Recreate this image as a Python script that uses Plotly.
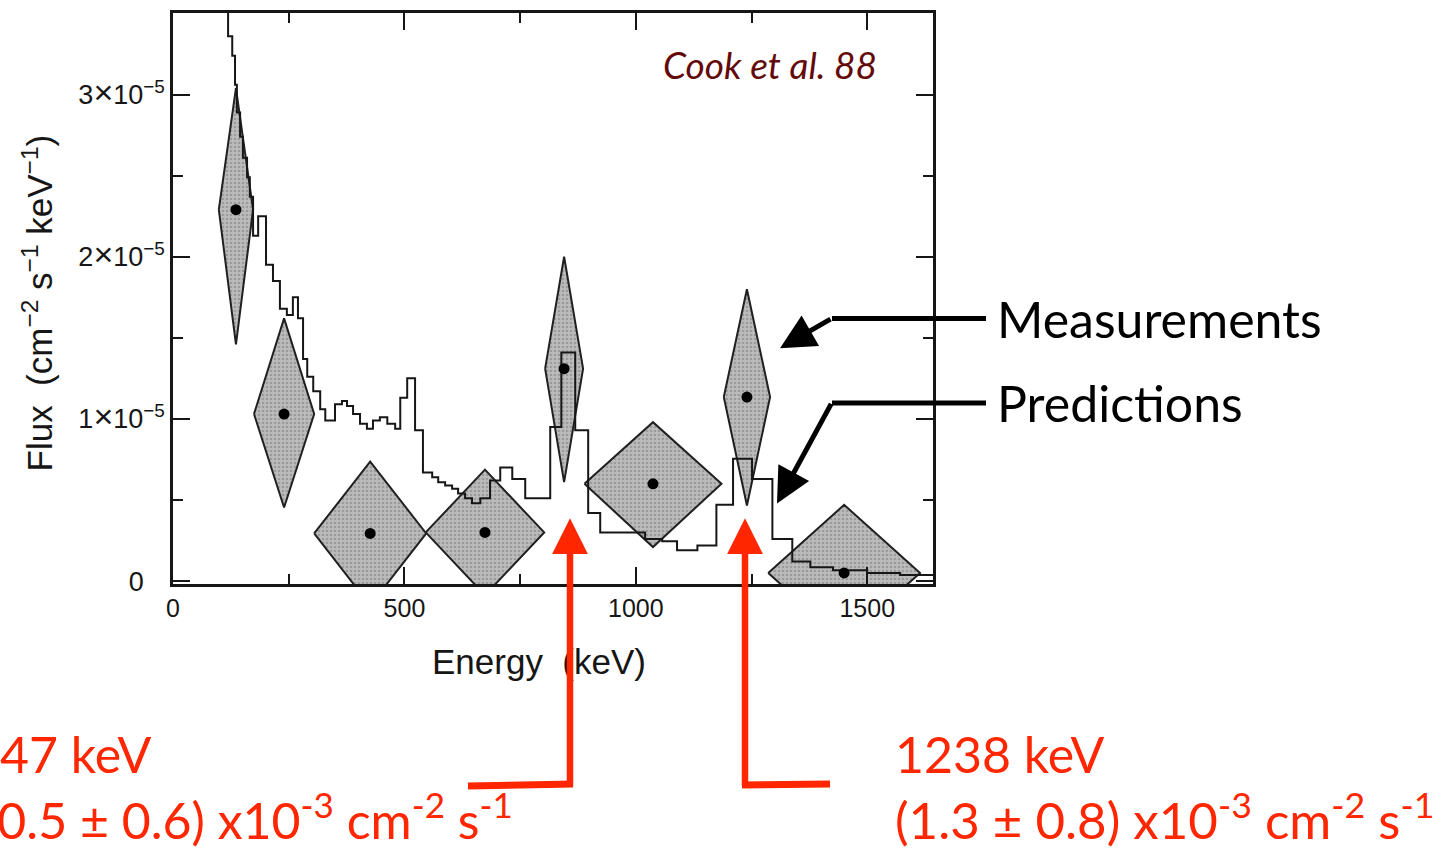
import plotly.graph_objects as go

# ---------------- data (flux in units of 1e-5 cm^-2 s^-1 keV^-1) ----------------
# Predicted spectrum (step histogram): bin edges (keV) and bin values
pred_edges = [100, 119, 128, 134, 138, 145, 151, 160, 166, 173, 184, 201, 216, 231,
              246, 259, 270, 281, 290, 303, 318, 329, 350, 365, 376, 389, 404, 419,
              432, 447, 463, 480, 491, 506, 523, 540, 560, 573, 588, 603, 616, 631,
              646, 664, 685, 707, 733, 761, 815, 839, 869, 897, 923, 1020, 1057,
              1089, 1133, 1174, 1210, 1251, 1295, 1338, 1377, 1426, 1500, 1571, 1650]
pred_flux = [4.0, 3.36, 3.24, 3.06, 2.89, 2.74, 2.61, 2.49, 2.37, 2.13, 2.25, 1.95,
             1.85, 1.68, 1.64, 1.75, 1.62, 1.37, 1.26, 1.17, 1.06, 0.99, 1.09, 1.11,
             1.08, 1.03, 0.97, 0.94, 0.99, 1.01, 0.97, 0.94, 1.13, 1.25, 0.93, 0.67,
             0.64, 0.61, 0.59, 0.57, 0.54, 0.51, 0.48, 0.51, 0.62, 0.70, 0.63, 0.51,
             0.95, 1.41, 0.93, 0.42, 0.30, 0.26, 0.245, 0.19, 0.22, 0.47, 0.755,
             0.63, 0.26, 0.12, 0.086, 0.067, 0.05, 0.037]

# Measurements: centre energy, half bin width, flux, lower / upper error bounds
meas_E = [136, 240, 426, 674, 845, 1037, 1240, 1450]
meas_dE = [37, 65, 121, 128, 41, 148, 50, 164]
meas_f = [2.29, 1.03, 0.294, 0.30, 1.31, 0.60, 1.135, 0.05]
meas_lo = [1.46, 0.454, -0.15, -0.087, 0.61, 0.21, 0.466, -0.37]
meas_hi = [3.04, 1.62, 0.736, 0.687, 2.00, 0.98, 1.80, 0.47]

x_ticks = [0, 500, 1000, 1500]
y_ticks = [0, 1, 2, 3]
_X = "<span style='font-size:34px'>\u00d7</span>"
y_ticktext = ["0<sup>\u00a0\u00a0\u00a0\u00a0</sup>",
              "1" + _X + "10<sup>\u22125</sup>",
              "2" + _X + "10<sup>\u22125</sup>",
              "3" + _X + "10<sup>\u22125</sup>"]

line_labels = ["847 keV", "1238 keV"]
flux_labels = ["(0.5 \u00b1 0.6) x10<sup>-3</sup> cm<sup>-2</sup> s<sup>-1</sup>",
               "(1.3 \u00b1 0.8) x10<sup>-3</sup> cm<sup>-2</sup> s<sup>-1</sup>"]

# ---------------- layout geometry (pixels) ----------------
W, H = 1441, 850
L, R, T, B = 173, 933, 10, 584
PW, PH = R - L, B - T


def px(xpix):
    return (xpix - L) / PW


def py(ypix):
    return (B - ypix) / PH


RED = "rgb(255,38,0)"
INK = "#161616"
fig = go.Figure()

# measurement diamonds
for E, dE, f, lo, hi in zip(meas_E, meas_dE, meas_f, meas_lo, meas_hi):
    fig.add_trace(go.Scatter(
        x=[E - dE, E, E + dE, E, E - dE],
        y=[f, hi, f, lo, f],
        mode="lines", fill="toself",
        fillcolor="#b4b4b4",
        fillpattern=dict(shape=".", fgcolor="#7a7a7a", bgcolor="#bcbcbc",
                         size=4, solidity=0.35),
        line=dict(color="#202020", width=2),
        hoverinfo="skip", showlegend=False))

# predicted spectrum
fig.add_trace(go.Scatter(
    x=pred_edges, y=pred_flux + [pred_flux[-1]],
    mode="lines", line=dict(color=INK, width=2, shape="hv"),
    showlegend=False))

# measurement centres
fig.add_trace(go.Scatter(
    x=meas_E, y=meas_f, mode="markers",
    marker=dict(color="black", size=11), showlegend=False))

axis_common = dict(
    showline=True, linecolor=INK, linewidth=2.5, mirror="ticks",
    ticks="inside", ticklen=17, tickwidth=2, tickcolor=INK,
    showgrid=False, zeroline=False,
)

fig.update_xaxes(range=[0, 1642], tickvals=x_ticks,
                 tickfont=dict(family="Liberation Sans", size=25, color=INK),
                 minor=dict(ticks="inside", ticklen=10, dtick=250, tick0=0,
                            tickwidth=2, tickcolor=INK),
                 **axis_common)
fig.update_yaxes(range=[-0.018, 3.503], tickvals=y_ticks, ticktext=y_ticktext,
                 tickfont=dict(family="Liberation Sans", size=27, color=INK),
                 minor=dict(ticks="inside", ticklen=10, dtick=0.5, tick0=0,
                            tickwidth=2, tickcolor=INK),
                 **axis_common)

ann = []
# axis titles
ann.append(dict(xref="paper", yref="paper", x=px(38), y=py(302), showarrow=False,
                textangle=-90, xanchor="center", yanchor="middle",
                text="Flux\u00a0\u00a0(cm<sup>\u22122</sup> s<sup>\u22121</sup> keV<sup>\u22121</sup>)",
                font=dict(family="Liberation Sans", size=35, color=INK)))
ann.append(dict(xref="paper", yref="paper", x=px(539), y=py(662), showarrow=False,
                xanchor="center", yanchor="middle", text="Energy\u00a0\u00a0(keV)",
                font=dict(family="Liberation Sans", size=35, color=INK)))
# reference text
ann.append(dict(xref="paper", yref="paper", x=px(770), y=py(62), showarrow=False,
                xanchor="center", yanchor="middle", text="<i>Cook et al. 88</i>",
                font=dict(family="Lato", size=37, color="rgb(100,10,10)")))
# legend-like labels
ann.append(dict(xref="paper", yref="paper", x=px(995), y=py(318), showarrow=False,
                xanchor="left", yanchor="middle", text="Measurements",
                font=dict(family="Lato", size=50, color="black")))
ann.append(dict(xref="paper", yref="paper", x=px(995), y=py(402), showarrow=False,
                xanchor="left", yanchor="middle", text="Predictions",
                font=dict(family="Lato", size=50, color="black")))
# black arrows (diagonal parts)
ann.append(dict(xref="paper", yref="paper", x=px(780), y=py(347), text="",
                showarrow=True, arrowhead=2, arrowsize=1.4, arrowwidth=5,
                arrowcolor="black", ax=832 - 780, ay=317 - 347))
ann.append(dict(xref="paper", yref="paper", x=px(777), y=py(503), text="",
                showarrow=True, arrowhead=2, arrowsize=1.4, arrowwidth=5,
                arrowcolor="black", ax=832 - 777, ay=402 - 503))
# red arrows (vertical parts)
for xpix in (570, 745):
    ann.append(dict(xref="paper", yref="paper", x=px(xpix), y=py(518), text="",
                    showarrow=True, arrowhead=2, arrowsize=1.1, arrowwidth=6.5,
                    arrowcolor=RED, ax=0, ay=787 - 518))
# red labels
ann.append(dict(xref="paper", yref="paper", x=px(153), y=py(755), showarrow=False,
                xanchor="right", yanchor="middle", text=line_labels[0],
                font=dict(family="Lato", size=50, color=RED)))
ann.append(dict(xref="paper", yref="paper", x=px(515), y=py(818), showarrow=False,
                xanchor="right", yanchor="middle", text=flux_labels[0],
                font=dict(family="Lato", size=50, color=RED)))
ann.append(dict(xref="paper", yref="paper", x=px(893), y=py(755), showarrow=False,
                xanchor="left", yanchor="middle", text=line_labels[1],
                font=dict(family="Lato", size=50, color=RED)))
ann.append(dict(xref="paper", yref="paper", x=px(893), y=py(818), showarrow=False,
                xanchor="left", yanchor="middle", text=flux_labels[1],
                font=dict(family="Lato", size=51, color=RED)))

shapes = [
    dict(type="line", xref="paper", yref="paper", x0=px(832), x1=px(986),
         y0=py(317), y1=py(317), line=dict(color="black", width=5)),
    dict(type="line", xref="paper", yref="paper", x0=px(832), x1=px(986),
         y0=py(402), y1=py(402), line=dict(color="black", width=5)),
    dict(type="line", xref="paper", yref="paper", x0=px(468), x1=px(573),
         y0=py(787), y1=py(785), line=dict(color=RED, width=7)),
    dict(type="line", xref="paper", yref="paper", x0=px(742), x1=px(830),
         y0=py(786), y1=py(785), line=dict(color=RED, width=7)),
]

fig.update_layout(
    width=W, height=H,
    margin=dict(l=L, r=W - R, t=T, b=H - B, pad=0),
    paper_bgcolor="white", plot_bgcolor="white",
    annotations=ann, shapes=shapes, showlegend=False,
)

fig.write_html("out.html", config={"displayModeBar": False},
               post_script="document.body.style.margin='0';")
